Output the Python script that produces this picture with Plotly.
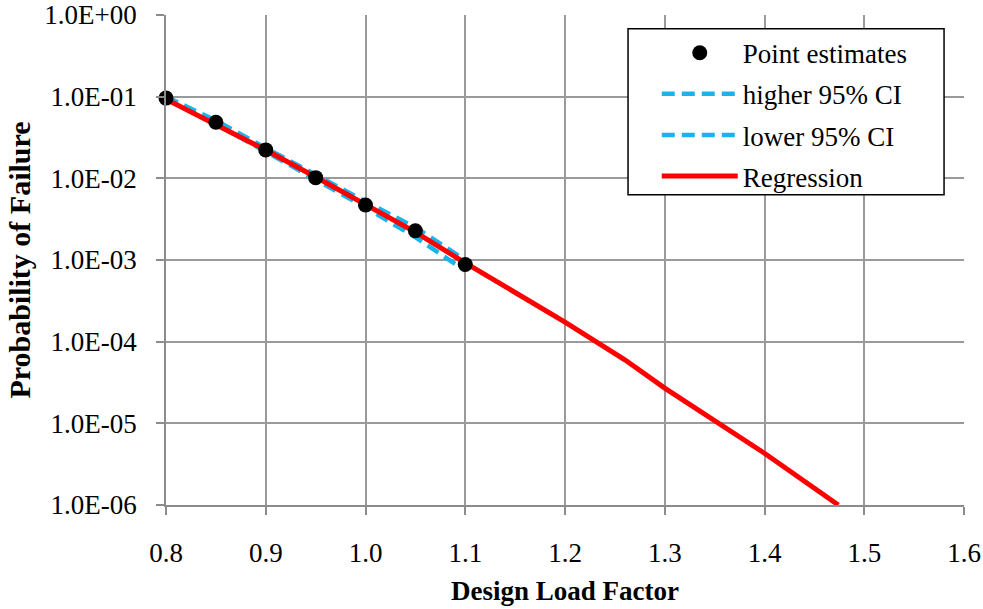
import plotly.graph_objects as go

# Point estimates
pt_x = [0.80, 0.85, 0.90, 0.95, 1.00, 1.05, 1.10]
pt_y = [0.096, 0.0486, 0.0223, 0.0102, 0.00472, 0.00228, 0.00088]

# 95% confidence interval bounds
ci_x = [0.80, 0.85, 0.90, 0.95, 1.00, 1.05, 1.10]
ci_hi = [0.100, 0.051, 0.0235, 0.0110, 0.0052, 0.0025, 0.00100]
ci_lo = [0.094, 0.0465, 0.0212, 0.0096, 0.0044, 0.0019, 0.00074]

# Regression curve
reg_x = [0.80, 0.85, 0.90, 0.95, 1.00, 1.05, 1.10, 1.20, 1.26, 1.30, 1.40, 1.474]
reg_y = [0.093, 0.046, 0.0222, 0.0104, 0.0048, 0.0022, 0.00092, 0.000174, 0.000060,
         0.000027, 0.0000043, 0.000001]

# Axis ticks
x_ticks = [0.8, 0.9, 1.0, 1.1, 1.2, 1.3, 1.4, 1.5, 1.6]
x_tick_text = ["0.8", "0.9", "1.0", "1.1", "1.2", "1.3", "1.4", "1.5", "1.6"]
y_ticks = [1, 1e-1, 1e-2, 1e-3, 1e-4, 1e-5, 1e-6]
y_tick_text = ["1.0E+00", "1.0E-01", "1.0E-02", "1.0E-03", "1.0E-04", "1.0E-05", "1.0E-06"]

CYAN = "#18B4EC"
FONT = "Liberation Serif, Times New Roman, Times, serif"

fig = go.Figure()
fig.add_trace(go.Scatter(x=ci_x, y=ci_hi, mode="lines", name="higher 95% CI",
                         line=dict(color=CYAN, width=4.5, dash="13px,7px"),
                         legendgroup="b", legendrank=2, cliponaxis=False))
fig.add_trace(go.Scatter(x=ci_x, y=ci_lo, mode="lines", name="lower 95% CI",
                         line=dict(color=CYAN, width=4.5, dash="13px,7px"),
                         legendgroup="c", legendrank=3, cliponaxis=False))
fig.add_trace(go.Scatter(x=reg_x, y=reg_y, mode="lines", name="Regression",
                         line=dict(color="#FF0000", width=5),
                         legendgroup="d", legendrank=4, cliponaxis=False))
fig.add_trace(go.Scatter(x=pt_x, y=pt_y, mode="markers", name="Point estimates",
                         marker=dict(color="black", size=15),
                         legendgroup="a", legendrank=1, cliponaxis=False))

axis_common = dict(
    showline=True, linecolor="#8C8C8C", linewidth=1.5,
    showgrid=True, gridcolor="#9A9A9A", gridwidth=1.5,
    ticks="outside", ticklen=8, tickcolor="#8C8C8C", tickwidth=1.5,
    zeroline=False, automargin=False,
    tickfont=dict(family=FONT, size=27, color="black"),
)

fig.update_xaxes(range=[0.8, 1.6], tickvals=x_ticks, ticktext=x_tick_text,
                 ticklabelstandoff=15,
                 title=dict(text="<b>Design Load Factor</b>", standoff=14,
                            font=dict(family=FONT, size=27, color="black")),
                 **axis_common)
fig.update_yaxes(type="log", range=[-6, 0], tickvals=y_ticks, ticktext=y_tick_text,
                 ticklabelstandoff=14,
                 title=dict(text="<b>Probability of Failure</b>", standoff=5,
                            font=dict(family=FONT, size=30, color="black")),
                 **axis_common)

# legend frame drawn as a paper shape (wider than plotly's own legend box)
fig.add_shape(type="rect", xref="paper", yref="paper",
              x0=0.579, x1=0.975, y0=0.633, y1=0.972,
              fillcolor="white", line=dict(color="black", width=1.5), layer="above")

fig.update_layout(
    width=983, height=609,
    margin=dict(l=166, r=19, t=15, b=104, autoexpand=False),
    plot_bgcolor="white", paper_bgcolor="white",
    font=dict(family=FONT, color="black"),
    legend=dict(x=0.615, y=0.972, xanchor="left", yanchor="top",
                bgcolor="rgba(0,0,0,0)", borderwidth=0,
                font=dict(family=FONT, size=27, color="black"),
                traceorder="grouped", tracegroupgap=3, itemwidth=76),
    showlegend=True,
)

fig.write_html("out.html", config={"displayModeBar": False},
               post_script="document.body.style.margin='0';")
